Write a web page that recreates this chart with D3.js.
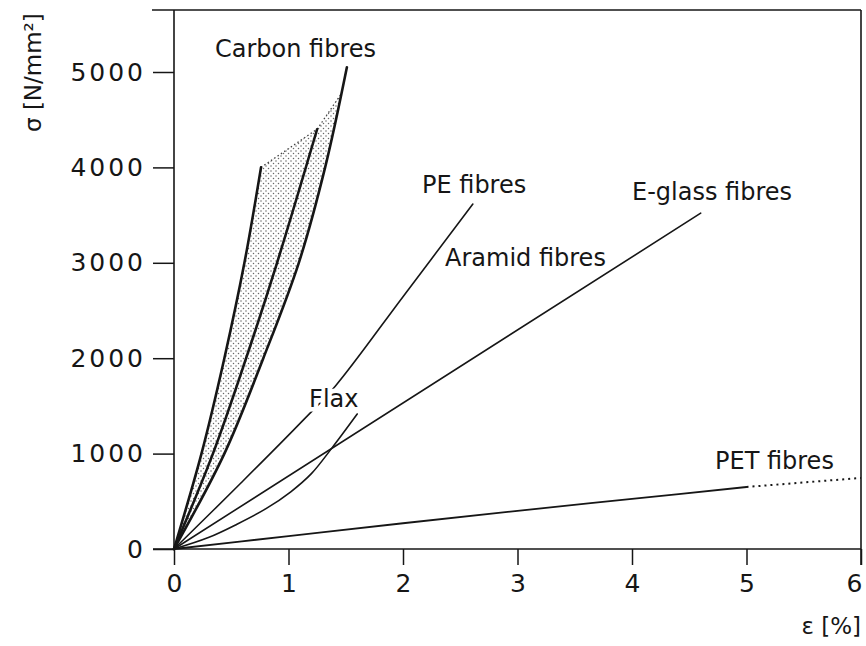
<!DOCTYPE html>
<html>
<head>
<meta charset="utf-8">
<script src="https://cdn.jsdelivr.net/npm/d3@7"></script>
<style>
  body { margin: 0; background: #fff; }
  svg { display: block; }
</style>
</head>
<body>
<div id="chart"></div>
<script>
// strain eps [%] vs stress sigma [N/mm2]
var xTicks = [0, 1, 2, 3, 4, 5, 6];
var yTicks = [0, 1000, 2000, 3000, 4000, 5000];

var carbonLow  = [[0,0],[0.24,1000],[0.44,2000],[0.615,3000],[0.76,4000]];
var carbonMid  = [[0,0],[0.34,1000],[0.63,2000],[0.9,3000],[1.25,4400]];
var carbonHigh = [[0,0],[0.44,1000],[0.78,2000],[1.09,3000],[1.32,4000],[1.51,5050]];
var carbonTop  = [[0.76,4000],[1.25,4400],[1.46,4770]];
var peFibres   = [[0,0],[0.6,710],[1.12,1340],[1.41,1709],[2.0,2645],[2.61,3616]];
var flax       = [[0,0],[0.3,120],[0.55,260],[0.8,420],[1.02,600],[1.2,790],[1.38,1060],[1.6,1415]];
var eGlass     = [[0,0],[4.6,3520]];
var pet        = [[0,0],[1,135],[2,270],[3,400],[4,525],[5,650]];
var petDotted  = [[5,650],[6,745]];

var width = 866, height = 646;
var svg = d3.select("#chart").append("svg")
    .attr("width", width)
    .attr("height", height);

var x = d3.scaleLinear().domain([0, 6]).range([174, 861]);
var y = d3.scaleLinear().domain([0, 5000]).range([549, 72]);
var yTop = 5650;
var ink = "#161616";
var font = "DejaVu Sans";

// stipple for the carbon band
var pat = svg.append("defs").append("pattern")
    .attr("id", "stipple")
    .attr("width", 5).attr("height", 5)
    .attr("patternUnits", "userSpaceOnUse");
pat.append("circle").attr("cx", 1).attr("cy", 1).attr("r", 0.75).attr("fill", "#666");
pat.append("circle").attr("cx", 3.5).attr("cy", 3.5).attr("r", 0.75).attr("fill", "#666");

var line = d3.line()
    .x(function (d) { return x(d[0]); })
    .y(function (d) { return y(d[1]); })
    .curve(d3.curveCatmullRom);

// carbon band: low curve up, dotted top, high curve back down
var band = carbonLow.concat(carbonTop.slice(1))
    .concat(carbonHigh.filter(function (d) { return d[1] < 4770; }).reverse());
svg.append("path")
    .attr("d", d3.line().x(function (d) { return x(d[0]); }).y(function (d) { return y(d[1]); })(band))
    .attr("fill", "url(#stipple)")
    .attr("stroke", "none");

svg.append("path")
    .attr("d", d3.line().x(function (d) { return x(d[0]); }).y(function (d) { return y(d[1]); })(carbonTop))
    .attr("fill", "none")
    .attr("stroke", "#444")
    .attr("stroke-width", 1.3)
    .attr("stroke-dasharray", "1.5,2.5");

// frame
var frame = svg.append("g").attr("stroke", ink).attr("stroke-width", 1.6);
frame.append("line").attr("x1", x(0) - 22).attr("x2", x(6)).attr("y1", y(yTop)).attr("y2", y(yTop));
frame.append("line").attr("x1", x(6)).attr("x2", x(6)).attr("y1", y(yTop)).attr("y2", y(0) + 16);
frame.append("line").attr("x1", x(0)).attr("x2", x(0)).attr("y1", y(yTop)).attr("y2", y(0));
frame.append("line").attr("x1", x(0) - 21).attr("x2", x(6)).attr("y1", y(0)).attr("y2", y(0));

// axes
var gy = svg.append("g")
    .attr("transform", "translate(" + x(0) + ",0)")
    .call(d3.axisLeft(y).tickValues(yTicks).tickSize(21).tickPadding(7).tickFormat(d3.format("d")));
gy.select(".domain").remove();
gy.selectAll("line").attr("stroke", ink).attr("stroke-width", 1.5);
gy.selectAll("text")
    .attr("fill", ink)
    .style("font-family", font)
    .style("font-size", "25px")
    .style("letter-spacing", "3px");

var gx = svg.append("g")
    .attr("transform", "translate(0," + y(0) + ")")
    .call(d3.axisBottom(x).tickValues(xTicks).tickSize(16).tickPadding(9).tickFormat(d3.format("d")));
gx.select(".domain").remove();
gx.selectAll("line").attr("stroke", ink).attr("stroke-width", 1.5);
gx.selectAll("text")
    .attr("fill", ink)
    .style("font-family", font)
    .style("font-size", "25px");
// last label sits just inside the right edge
gx.selectAll("text").filter(function (d) { return d === 6; }).attr("dx", -7);

// curves
var series = [
    { d: carbonLow, w: 2.6 },
    { d: carbonMid, w: 2.6 },
    { d: carbonHigh, w: 2.6 },
    { d: peFibres, w: 1.6 },
    { d: flax, w: 1.6 },
    { d: eGlass, w: 1.6 },
    { d: pet, w: 1.8 }
];
svg.append("g").selectAll("path")
    .data(series)
    .join("path")
    .attr("d", function (s) { return line(s.d); })
    .attr("fill", "none")
    .attr("stroke", ink)
    .attr("stroke-width", function (s) { return s.w; })
    .attr("stroke-linecap", "round");

svg.append("path")
    .attr("d", line(petDotted))
    .attr("fill", "none")
    .attr("stroke", ink)
    .attr("stroke-width", 2)
    .attr("stroke-dasharray", "2,4");

// curve names
var names = [
    { t: "Carbon fibres", e: 0.358, s: 5157 },
    { t: "PE fibres", e: 2.166, s: 3732 },
    { t: "Aramid fibres", e: 2.367, s: 2966 },
    { t: "E-glass fibres", e: 4.0, s: 3658 },
    { t: "Flax", e: 1.18, s: 1488, halo: true },
    { t: "PET fibres", e: 4.725, s: 839 }
];
svg.append("g").selectAll("text")
    .data(names)
    .join("text")
    .attr("x", function (d) { return x(d.e); })
    .attr("y", function (d) { return y(d.s); })
    .attr("font-family", font)
    .attr("font-size", 24)
    .attr("fill", ink)
    .attr("stroke", function (d) { return d.halo ? "#fff" : "none"; })
    .attr("stroke-width", 9)
    .attr("paint-order", "stroke")
    .text(function (d) { return d.t; });

// axis titles
svg.append("text")
    .attr("transform", "translate(41,132) rotate(-90)")
    .attr("font-family", font)
    .attr("font-size", 23)
    .attr("fill", ink)
    .text("σ [N/mm²]");

svg.append("text")
    .attr("x", 861)
    .attr("y", 634)
    .attr("text-anchor", "end")
    .attr("font-family", font)
    .attr("font-size", 23)
    .attr("fill", ink)
    .text("ε [%]");
</script>
</body>
</html>
